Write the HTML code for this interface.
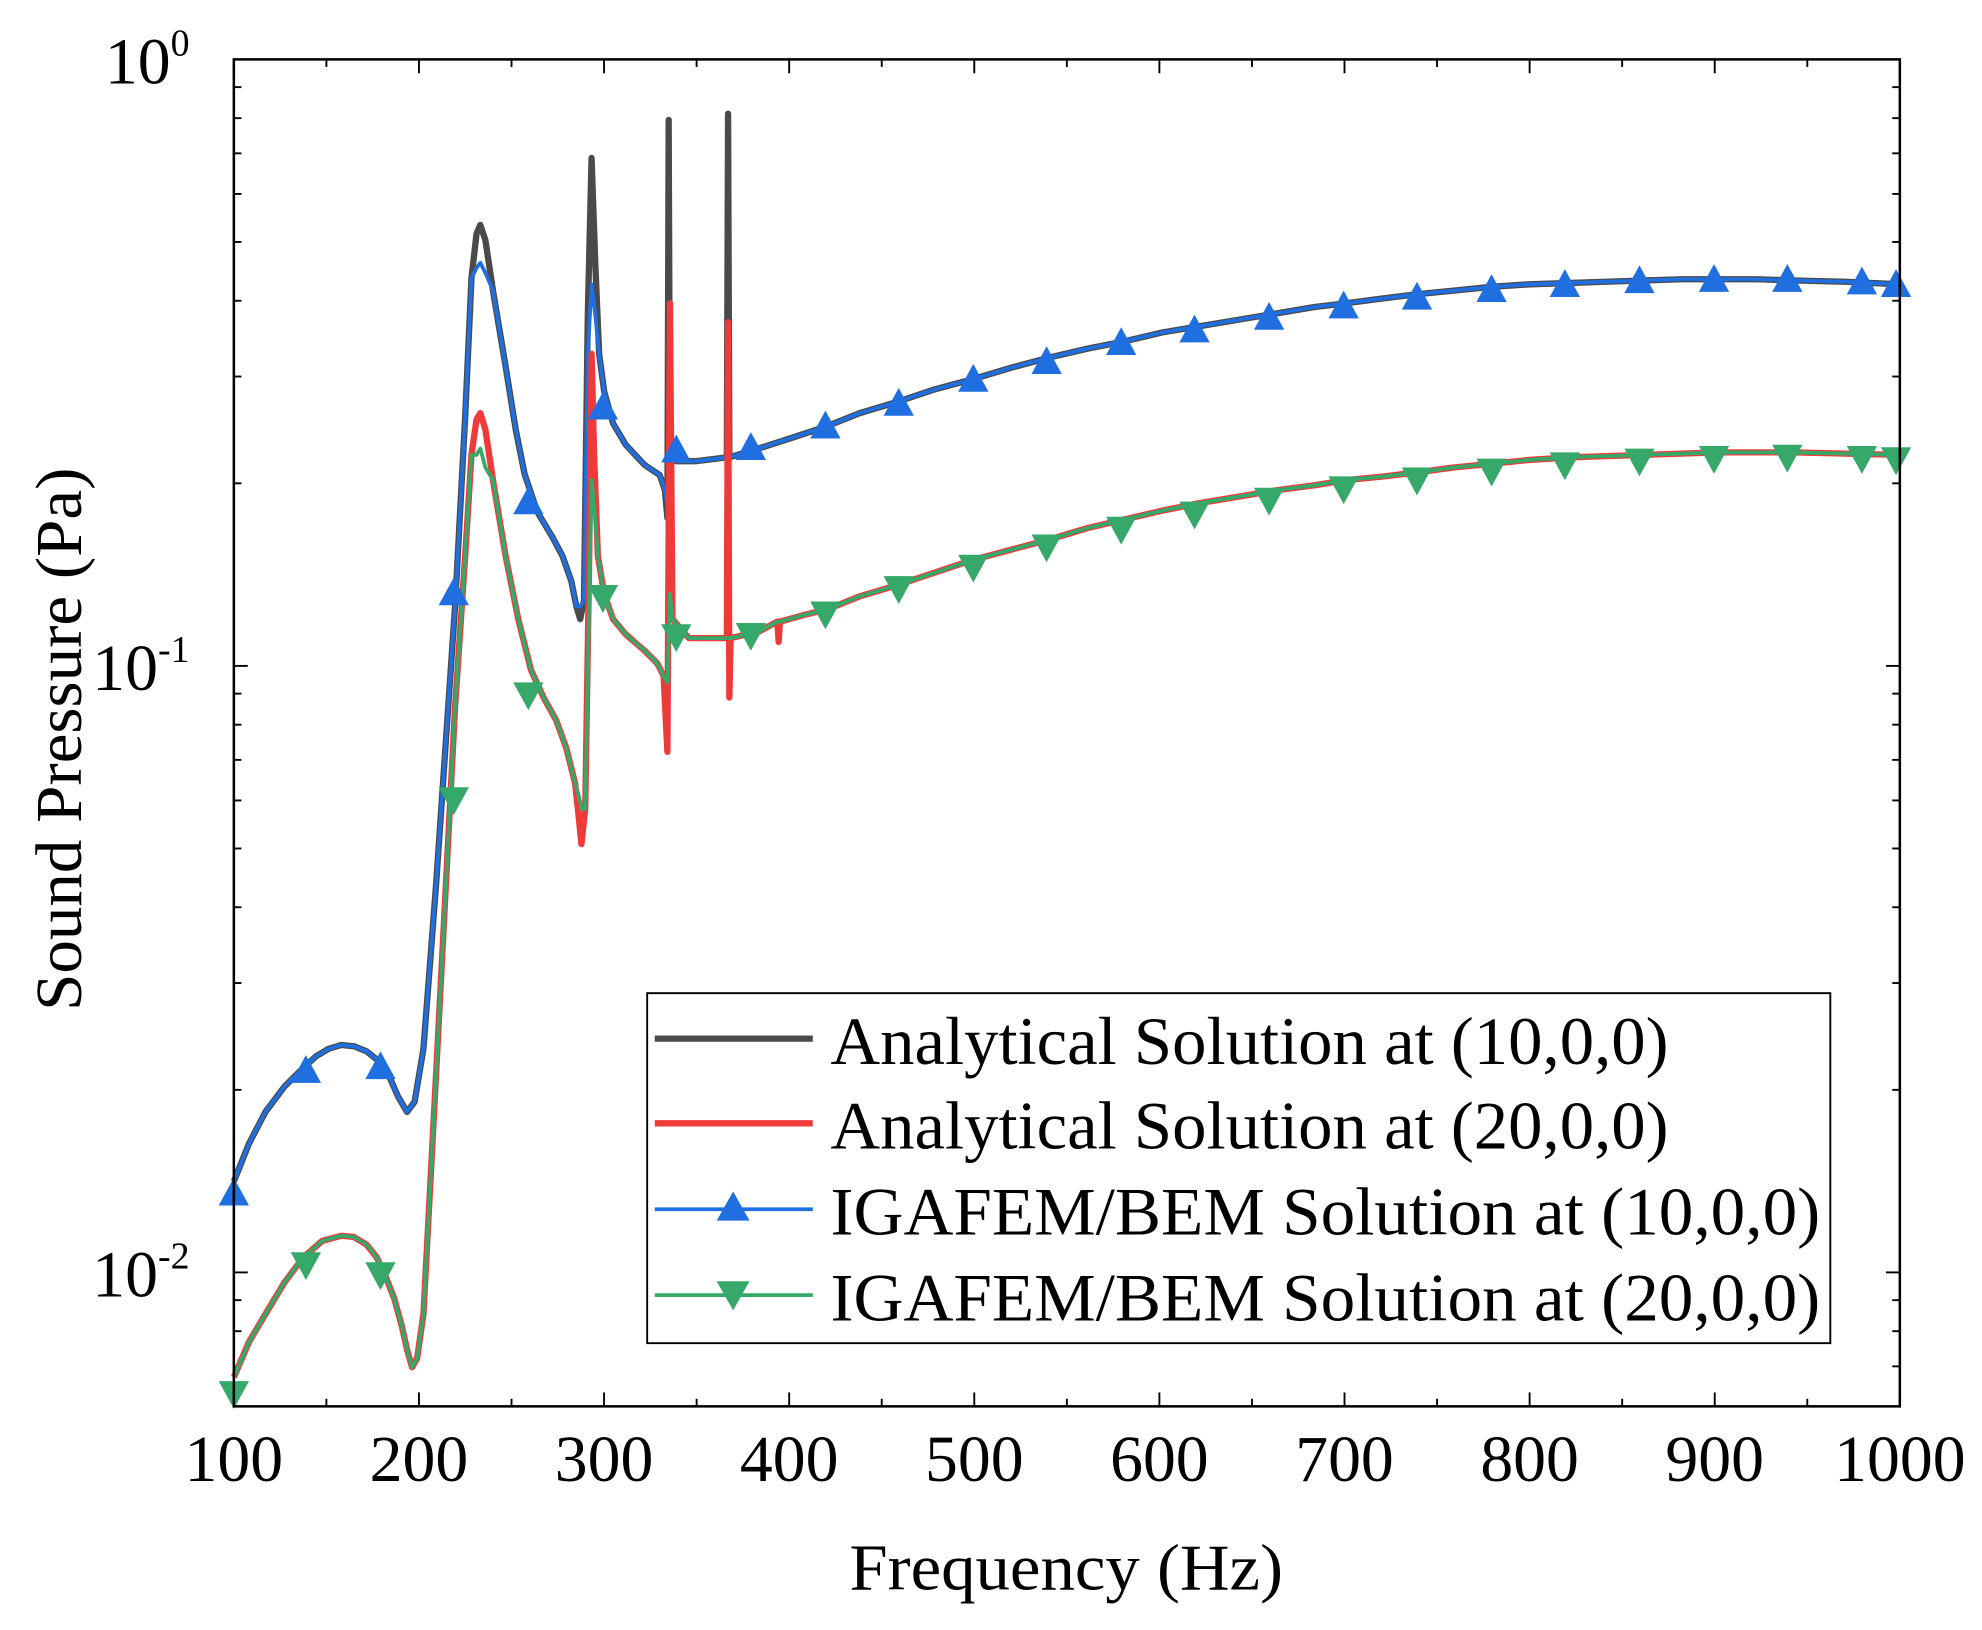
<!DOCTYPE html>
<html><head><meta charset="utf-8"><style>html,body{margin:0;padding:0;background:#fff}svg{display:block}</style></head>
<body>
<svg id="s" width="1982" height="1630" viewBox="0 0 1568 1290" preserveAspectRatio="none" xmlns="http://www.w3.org/2000/svg" font-family="'Liberation Serif',serif">
<rect width="1568" height="1290" fill="#fff"/>
<g id="ticks" stroke="#000" stroke-width="1.5"></g>
<g fill="none" stroke-linejoin="round">
<path id="blk" stroke="#4a4a4a" stroke-width="5"/>
<path id="blu" stroke="#1f6fe0" stroke-width="3"/>
<path id="red" stroke="#ef3a3a" stroke-width="5"/>
<path id="grn" stroke="#35a86a" stroke-width="3"/>
</g>
<g id="mk"></g>
<rect x="185" y="47" width="1318" height="1066" fill="none" stroke="#000" stroke-width="2"/>
<g font-size="52" text-anchor="middle" id="xl"></g>
<g font-size="52" text-anchor="end">
<text x="150" y="66">10<tspan font-size="30" dy="-22">0</tspan></text>
<text x="150" y="546">10<tspan font-size="30" dy="-22">-1</tspan></text>
<text x="150" y="1026">10<tspan font-size="30" dy="-22">-2</tspan></text>
</g>
<text x="672" y="1258" font-size="52" textLength="343" lengthAdjust="spacingAndGlyphs">Frequency (Hz)</text>
<text transform="translate(64,800) rotate(-90)" font-size="52" textLength="430" lengthAdjust="spacingAndGlyphs">Sound Pressure (Pa)</text>
<rect x="512" y="786" width="936" height="277" fill="#fff" stroke="#000" stroke-width="1.5"/>
<line x1="518" y1="822" x2="643" y2="822" stroke="#4a4a4a" stroke-width="5"/>
<line x1="518" y1="889" x2="643" y2="889" stroke="#ef3a3a" stroke-width="5"/>
<line x1="518" y1="957" x2="643" y2="957" stroke="#1f6fe0" stroke-width="3"/>
<line x1="518" y1="1025" x2="643" y2="1025" stroke="#35a86a" stroke-width="3"/>
<polygon points="580,943 567,966 593,966" fill="#1f6fe0"/>
<polygon points="580,1037 567,1014 593,1014" fill="#35a86a"/>
<g font-size="54" lengthAdjust="spacingAndGlyphs">
<text x="657" y="842" textLength="663" lengthAdjust="spacingAndGlyphs">Analytical Solution at (10,0,0)</text>
<text x="657" y="909" textLength="663" lengthAdjust="spacingAndGlyphs">Analytical Solution at (20,0,0)</text>
<text x="657" y="977" textLength="783" lengthAdjust="spacingAndGlyphs">IGAFEM/BEM Solution at (10,0,0)</text>
<text x="657" y="1045" textLength="783" lengthAdjust="spacingAndGlyphs">IGAFEM/BEM Solution at (20,0,0)</text>
</g>
</svg>
<script>
function P(a){return "M"+a.map(p=>p.join(",")).join("L");}
const blk=[[185,935],[197,905],[210,880],[225,860],[240,845],[250,836],[260,830],[270,827],[280,828],[290,832],[300,840],[308,852],[315,868],[322,880],[328,872],[335,830],[345,700],[360,480],[368,330],[373,220],[377,185],[380,178],[384,190],[390,230],[400,290],[408,340],[415,375],[425,405],[437,425],[445,440],[452,460],[456,480],[459,490],[462,475],[465,250],[468,125],[471,210],[474,280],[478,310],[485,335],[495,352],[510,368],[522,376],[526,388],[528,410],[529,95],[530,360],[535,365],[550,365],[575,362],[576,90],[577,362],[600,355],[628,346],[655,337],[680,327],[710,318],[740,308],[770,300],[800,291],[830,283],[860,276],[890,270],[920,263],[950,258],[980,253],[1010,248],[1040,243],[1065,240],[1095,236],[1120,233],[1150,230],[1180,227],[1210,225],[1240,224],[1270,223],[1300,222],[1330,221],[1360,221],[1390,221],[1420,222],[1460,223],[1503,225]];
const blu=blk.map(p=>[p[0],p[1]]);
blu.forEach(p=>{if(p[0]==380)p[1]=208;if(p[0]==377)p[1]=212;if(p[0]==384)p[1]=216;if(p[0]==468)p[1]=225;if(p[0]==465)p[1]=280;if(p[0]==471)p[1]=250;if(p[0]==529)p[1]=330;if(p[0]==528)p[1]=400;if(p[0]==576)p[1]=362;if(p[0]==459)p[1]=480;});
const red=[[185,1090],[197,1062],[210,1040],[225,1015],[240,995],[255,982],[270,978],[280,979],[290,985],[298,995],[305,1010],[312,1028],[318,1050],[322,1068],[326,1082],[330,1075],[335,1040],[345,850],[360,560],[368,440],[373,360],[377,332],[380,327],[384,340],[390,380],[400,440],[410,490],[420,530],[430,552],[440,570],[448,592],[455,620],[458,648],[460,668],[463,640],[466,450],[468,280],[470,360],[473,440],[478,470],[485,490],[495,502],[510,515],[520,525],[525,535],[528,595],[530,240],[532,490],[545,505],[575,505],[576,255],[577,552],[578,505],[600,500],[615,492],[616,508],[617,492],[635,487],[655,482],[680,472],[710,463],[740,453],[770,443],[800,435],[830,427],[860,418],[890,411],[920,404],[950,398],[980,393],[1010,388],[1040,384],[1065,380],[1095,377],[1120,374],[1150,370],[1180,367],[1210,364],[1240,362],[1270,361],[1300,360],[1330,359],[1360,358],[1390,358],[1420,358],[1460,359],[1503,360]];
const grn=red.map(p=>[p[0],p[1]]);
grn.forEach(p=>{if(p[0]==380)p[1]=355;if(p[0]==377)p[1]=360;if(p[0]==384)p[1]=370;if(p[0]==468)p[1]=380;if(p[0]==466)p[1]=480;if(p[0]==470)p[1]=400;if(p[0]==460)p[1]=640;if(p[0]==458)p[1]=630;if(p[0]==530)p[1]=470;if(p[0]==528)p[1]=540;if(p[0]==576)p[1]=505;if(p[0]==577)p[1]=505;if(p[0]==616)p[1]=492;});
document.getElementById("blk").setAttribute("d",P(blk));
document.getElementById("blu").setAttribute("d",P(blu));
document.getElementById("red").setAttribute("d",P(red));
document.getElementById("grn").setAttribute("d",P(grn));
const bm=[[185,945],[242,848],[301,845],[359,470],[418,398],[477,323],[535,357],[594,355],[653,338],[711,320],[770,301],[828,287],[887,272],[945,262],[1004,252],[1063,243],[1121,236],[1180,230],[1238,226],[1297,223],[1356,222],[1414,222],[1473,224],[1500,226]];
const gm=[[185,1102],[242,1000],[301,1008],[359,632],[418,549],[477,472],[535,503],[594,502],[653,485],[711,465],[770,448],[828,432],[887,418],[945,406],[1004,395],[1063,386],[1121,379],[1180,372],[1238,367],[1297,364],[1356,362],[1414,361],[1473,362],[1500,363]];
let h="";
bm.forEach(([x,y])=>h+=`<polygon points="${x},${y-13} ${x-12},${y+9} ${x+12},${y+9}" fill="#1f6fe0"/>`);
gm.forEach(([x,y])=>h+=`<polygon points="${x},${y+13} ${x-12},${y-9} ${x+12},${y-9}" fill="#35a86a"/>`);
document.getElementById("mk").innerHTML=h;
let t="",xl="";
for(let i=0;i<=18;i++){let x=185+i*1318/18,L=i%2?6:11;t+=`<line x1="${x}" y1="1113" x2="${x}" y2="${1113-L}"/><line x1="${x}" y1="47" x2="${x}" y2="${47+L}"/>`;if(i%2==0)xl+=`<text x="${x}" y="1172">${100+i*50}</text>`;}
for(let d=0;d<3;d++){for(let m=1;m<10;m++){let yy=47+d*480+480-Math.log10(m)*480;if(yy<47||yy>1113)continue;let L=m==1?11:6;t+=`<line x1="185" y1="${yy}" x2="${185+L}" y2="${yy}"/><line x1="1503" y1="${yy}" x2="${1503-L}" y2="${yy}"/>`;}}
document.getElementById("ticks").innerHTML=t;
document.getElementById("xl").innerHTML=xl;
</script>
</body></html>
